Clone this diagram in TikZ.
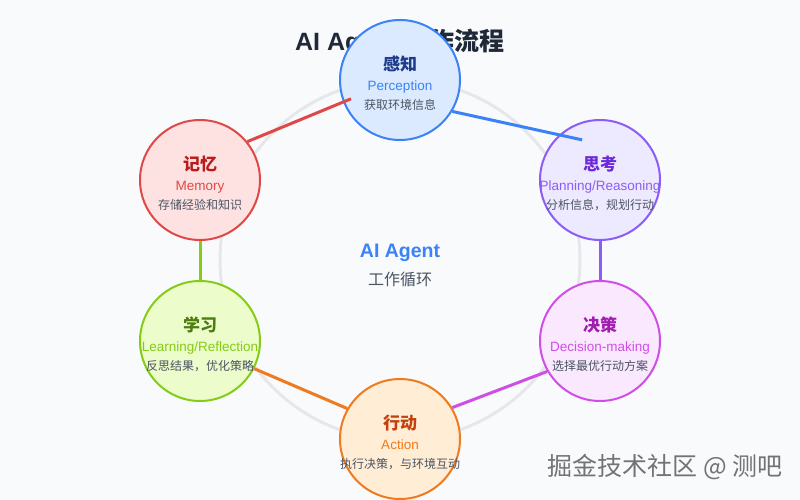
\documentclass[tikz,border=0pt]{standalone}
\usepackage{fontspec}
\setmainfont{Liberation Sans}
\newfontfamily\cjk{Noto Sans CJK SC}
\usepackage{xcolor}
\usetikzlibrary{calc}
\definecolor{bgC}{HTML}{F8FAFC}
\definecolor{ringC}{HTML}{E5E7EB}
\definecolor{ttlC}{HTML}{1F2937}
\definecolor{descC}{HTML}{4B5563}
\definecolor{percD}{HTML}{3B82F6}\definecolor{percF}{HTML}{DBEAFE}\definecolor{percT}{HTML}{1E3A8A}
\definecolor{memD}{HTML}{E04848}\definecolor{memF}{HTML}{FEE2E2}\definecolor{memT}{HTML}{B91C1C}
\definecolor{thkD}{HTML}{8B5CF6}\definecolor{thkF}{HTML}{EDE9FE}\definecolor{thkT}{HTML}{6D28D9}
\definecolor{decD}{HTML}{D04EE6}\definecolor{decF}{HTML}{FAE8FF}\definecolor{decT}{HTML}{A21CAF}
\definecolor{actD}{HTML}{F07A1E}\definecolor{actF}{HTML}{FFEDD5}\definecolor{actT}{HTML}{C2410C}
\definecolor{lrnD}{HTML}{84CC16}\definecolor{lrnF}{HTML}{ECFCCB}\definecolor{lrnT}{HTML}{4D7C0F}
\tikzset{
	stage/.style={circle, draw=#1, line width=2pt, minimum size=120pt, inner sep=0pt,
		align=center, font=\fontsize{12}{20}\selectfont},
	link/.style={draw=#1, line width=3pt},
	ttl/.style={font=\bfseries\fontsize{25}{30}\selectfont, text=ttlC},
}
\newcommand{\stagetxt}[5]{\rule{0pt}{21pt}\makebox[0pt]{\cjk\bfseries\fontsize{17}{20}\selectfont\textcolor{#1}{#2}}\\[0.5pt]%
	\makebox[0pt]{\fontsize{13.5}{16}\selectfont\textcolor{#3}{#4}}\\[-1pt]\makebox[0pt]{\cjk\textcolor{descC}{#5}}}

\begin{document}
\begin{tikzpicture}[x=1pt, y=1pt]
	\path[fill=bgC] (0,0) rectangle (800,500);
	\useasboundingbox (0,0) rectangle (800,500);
	\node[circle, draw=ringC, line width=3pt, minimum size=360pt] at (400,240) (ring) {};
	\node[ttl] at (400,458) (title) {AI Agent {\cjk 工作流程}};
	\node[stage=percD, fill=percF] at (400,420) (perc) {\stagetxt{percT}{感知}{percD}{Perception}{获取环境信息}};
	\node[stage=memD, fill=memF] at (200,320) (mem) {\stagetxt{memT}{记忆}{memD}{Memory}{存储经验和知识}};
	\node[stage=thkD, fill=thkF] at (600,320) (think) {\stagetxt{thkT}{思考}{thkD}{Planning/Reasoning}{分析信息，规划行动}};
	\node[stage=decD, fill=decF] at (600,159) (deci) {\stagetxt{decT}{决策}{decD}{Decision-making}{选择最优行动方案}};
	\node[stage=actD, fill=actF] at (400,61) (act) {\stagetxt{actT}{行动}{actD}{Action}{执行决策，与环境互动}};
	\node[stage=lrnD, fill=lrnF] at (200,159) (learn) {\stagetxt{lrnT}{学习}{lrnD}{Learning/Reflection}{反思结果，优化策略}};
	\node[font=\bfseries\fontsize{19.5}{22}\selectfont, text=percD] at (400,247) (core) {AI Agent};
	\node[font=\cjk\fontsize{16}{18}\selectfont, text=descC] at (400,221) (corecn) {工作循环};
	\draw[link=memD] (mem.39) -- ($(perc.center)!0.86!(perc.201)$);
	\draw[link=percD] (perc.-31) -- ($(think.center)!0.72!(think.114)$);
	\draw[link=thkD] (think.south) -- (deci.north);
	\draw[link=decD] (deci.210) -- (act.31);
	\draw[link=actD] (act.150) -- (learn.-27);
	\draw[link=lrnD] (learn.north) -- (mem.south);
	\node[font=\cjk\fontsize{25}{28}\selectfont, text=black!55] at (665,33) (wm) {掘金技术社区 @ 测吧};
\end{tikzpicture}
\end{document}
